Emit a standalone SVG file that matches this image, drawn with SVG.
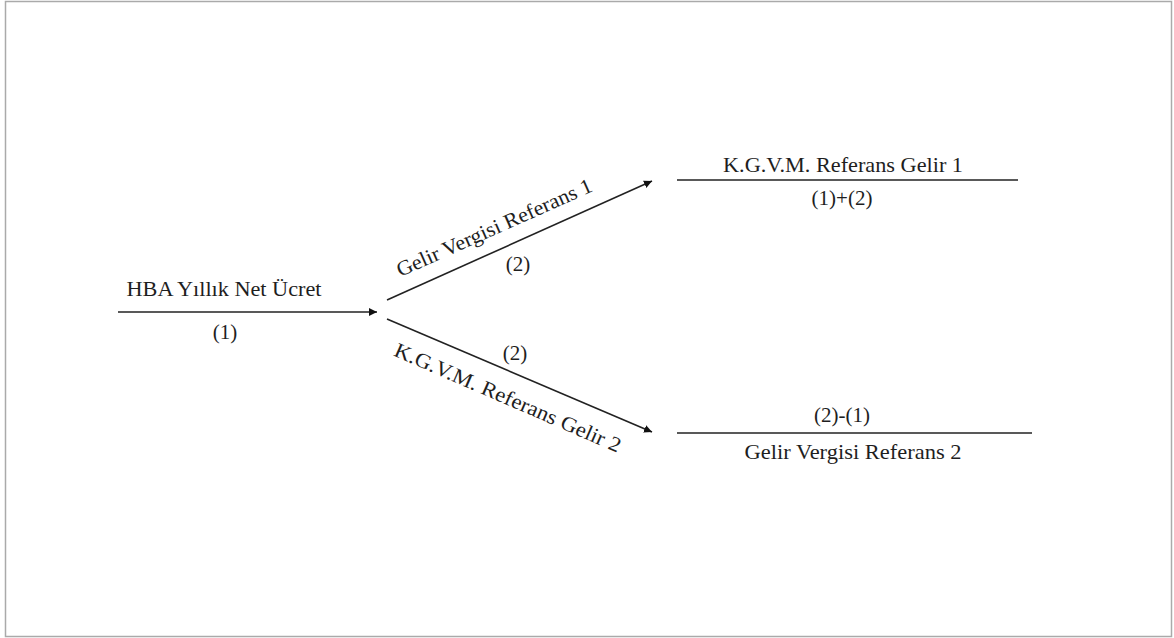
<svg xmlns="http://www.w3.org/2000/svg" width="1174" height="638" viewBox="0 0 1174 638">
<style>
text{font-family:"Liberation Serif","Times New Roman",serif;font-size:21px;fill:#1e1e1e;text-anchor:middle}
.ln{stroke:#222;stroke-width:1.6;fill:none}
.ar{stroke:#222;stroke-width:1.6;fill:none;marker-end:url(#ah)}
</style>
<defs>
<marker id="ah" viewBox="0 0 10 10" refX="10" refY="5" markerWidth="5" markerHeight="5" orient="auto" markerUnits="strokeWidth">
<path d="M0,0 L10,5 L0,10 z" fill="#111"/>
</marker>
</defs>
<rect x="5.5" y="1.5" width="1166" height="635" fill="#fff" stroke="#aaa" stroke-width="1.5"/>
<g id="connectors">
<line class="ar" x1="118" y1="312" x2="377" y2="312"/>
<line class="ar" x1="387" y1="300" x2="652" y2="181"/>
<line class="ar" x1="387" y1="319" x2="652" y2="432"/>
</g>
<g id="hba">
<text x="224" y="296" textLength="195" lengthAdjust="spacingAndGlyphs">HBA Yıllık  Net Ücret</text>
<text x="225" y="339">(1)</text>
</g>
<g id="edge-up-label">
<text transform="translate(497,234) rotate(-24)" textLength="212" lengthAdjust="spacingAndGlyphs">Gelir Vergisi Referans 1</text>
<text x="518" y="271">(2)</text>
</g>
<g id="edge-down-label">
<text x="515" y="360">(2)</text>
<text transform="translate(505,404) rotate(23.5)" textLength="245" lengthAdjust="spacingAndGlyphs">K.G.V.M. Referans Gelir 2</text>
</g>
<g id="node-kgvm1">
<text x="843" y="172" textLength="240" lengthAdjust="spacingAndGlyphs">K.G.V.M. Referans Gelir  1</text>
<line class="ln" x1="677" y1="180" x2="1018" y2="180"/>
<text x="842" y="205">(1)+(2)</text>
</g>
<g id="node-gv2">
<text x="842" y="422">(2)-(1)</text>
<line class="ln" x1="677" y1="433" x2="1032" y2="433"/>
<text x="853" y="459" textLength="217" lengthAdjust="spacingAndGlyphs">Gelir Vergisi Referans 2</text>
</g>
</svg>
